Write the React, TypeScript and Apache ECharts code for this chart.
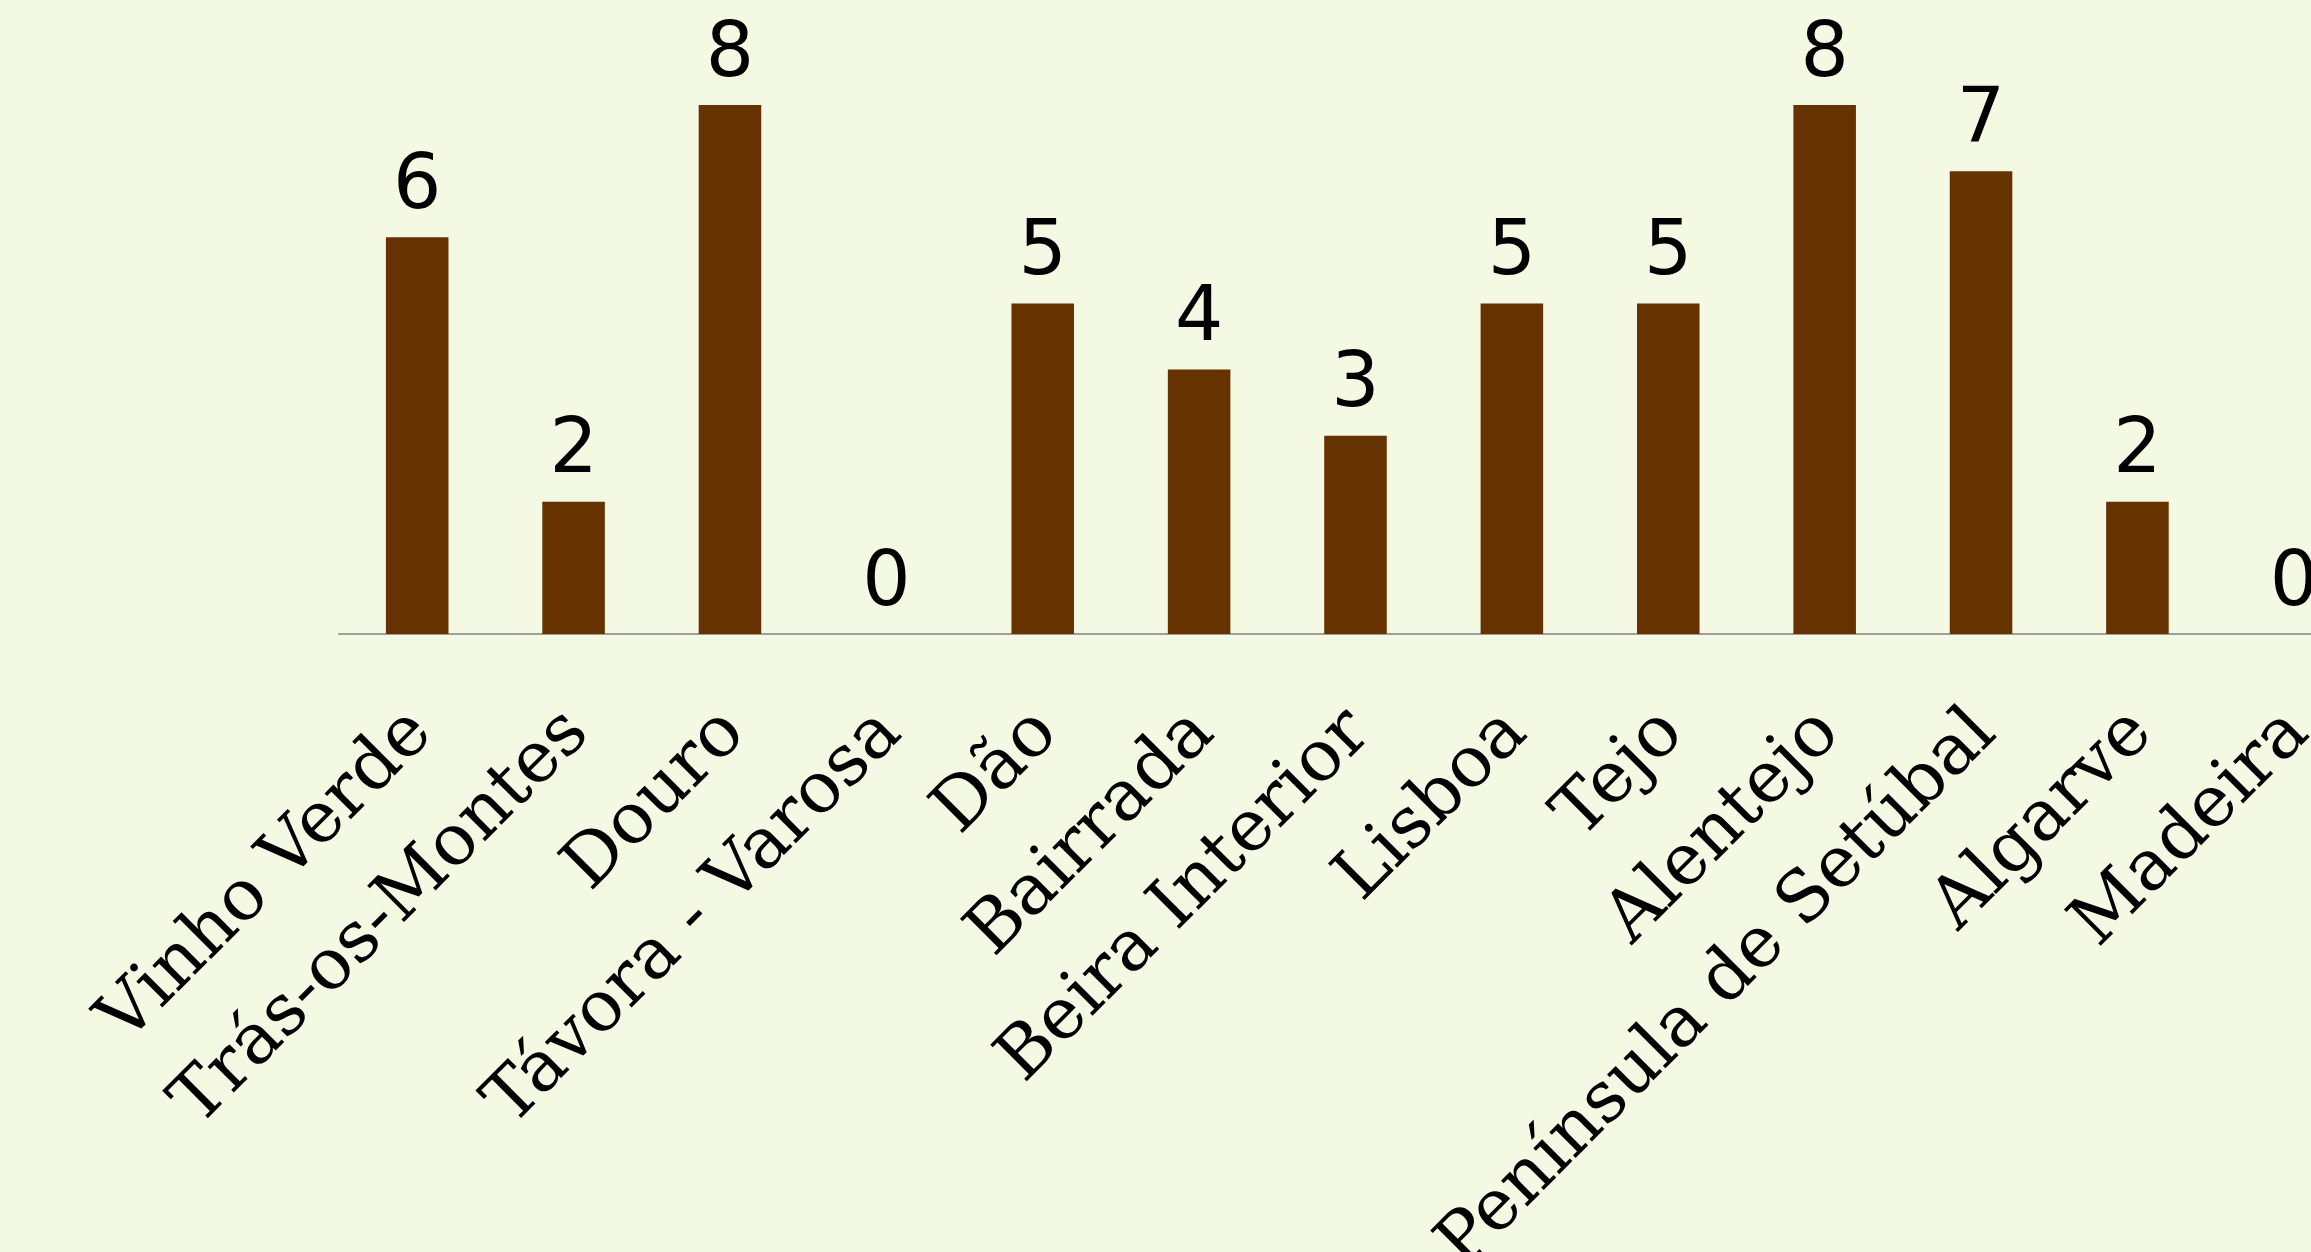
import React, { useEffect, useRef } from "react";
import * as echarts from "echarts";

const regions = [
  "Vinho Verde",
  "Trás-os-Montes",
  "Douro",
  "Távora - Varosa",
  "Dão",
  "Bairrada",
  "Beira Interior",
  "Lisboa",
  "Tejo",
  "Alentejo",
  "Península de Setúbal",
  "Algarve",
  "Madeira",
];

const counts = [6, 2, 8, 0, 5, 4, 3, 5, 5, 8, 7, 2, 0];

export default function App() {
  const ref = useRef<HTMLDivElement>(null);

  useEffect(() => {
    if (!ref.current) return;
    const chart = echarts.init(ref.current, null, { renderer: "svg" });
    chart.setOption({
      animation: false,
      backgroundColor: "#F3F9E3",
      grid: {
        left: 339,
        right: 0,
        top: 39,
        bottom: 618,
        containLabel: false,
        outerBoundsMode: "none",
      },
      xAxis: {
        type: "category",
        data: regions,
        axisLine: { show: true, lineStyle: { color: "#9E9E9E", width: 2 } },
        axisTick: { show: false },
        axisLabel: {
          interval: 0,
          rotate: 45,
          margin: 84,
          color: "#000000",
          fontFamily: "DejaVu Serif",
          fontSize: 71,
        },
      },
      yAxis: {
        type: "value",
        min: 0,
        max: 9,
        interval: 1,
        show: false,
        splitLine: { show: false },
      },
      series: [
        {
          type: "bar",
          data: counts,
          barWidth: "40%",
          itemStyle: { color: "#663300" },
          label: {
            show: true,
            position: "top",
            distance: 18,
            color: "#000000",
            fontFamily: "DejaVu Sans",
            fontSize: 76,
          },
        },
      ],
    });
    return () => chart.dispose();
  }, []);

  return (
    <div
      style={{
        position: "absolute",
        left: 0,
        top: 0,
        width: 2311,
        height: 1252,
        overflow: "hidden",
        background: "#F3F9E3",
      }}
    >
      <div ref={ref} style={{ width: 2372, height: 1252 }} />
    </div>
  );
}
